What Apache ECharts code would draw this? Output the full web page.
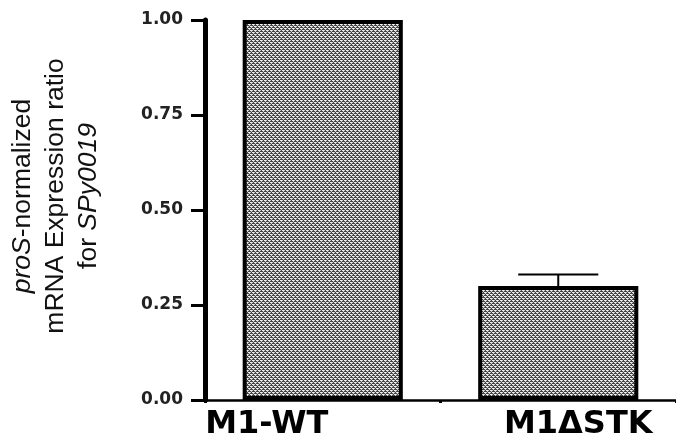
<!DOCTYPE html>
<html><head><meta charset="utf-8">
<script src="https://cdn.jsdelivr.net/npm/echarts@6/dist/echarts.min.js"></script>
<style>html,body{margin:0;padding:0;background:#fff}#c{width:676px;height:434px}</style>
</head><body><div id="c"></div>
<script>
var categories = ['M1-WT', 'M1\u0394STK'];
var values = [1.00, 0.30];
var errors = [0, 0.03];
var yTicks = [0, 0.25, 0.5, 0.75, 1.0];

function makePattern(){
  var c = document.createElement('canvas'); c.width = 4; c.height = 4;
  var g = c.getContext('2d');
  g.fillStyle = '#444'; g.fillRect(0,0,4,4);
  g.fillStyle = '#f0f0f0';
  g.fillRect(0,0,2,1); g.fillRect(2,2,2,1);
  g.fillStyle = '#c8c8c8';
  g.fillRect(2,0,1,1); g.fillRect(0,2,1,1); g.fillRect(1,1,1,1); g.fillRect(3,3,1,1);
  return c;
}
var pat = makePattern();

var chart = echarts.init(document.getElementById('c'));
chart.setOption({
  animation: false,
  grid: {left: 205, right: 0, top: 20, bottom: 34, outerBoundsMode: 'none', containLabel: false},
  xAxis: {
    type: 'category', data: categories,
    axisLine: {lineStyle: {color: '#000', width: 2.5}},
    axisTick: {show: true, length: 3, lineStyle: {color: '#000', width: 3}},
    axisLabel: {
      margin: 9,
      formatter: function(v, i){ return i === 0 ? '{a|' + v + '}' : '{b|' + v + '}'; },
      rich: {
        a: {fontFamily: 'DejaVu Sans', fontWeight: 'bold', fontSize: 32, color: '#000', padding: [0, 112, 0, 0]},
        b: {fontFamily: 'DejaVu Sans', fontWeight: 'bold', fontSize: 32, color: '#000', padding: [0, 0, 0, 40]}
      }
    }
  },
  yAxis: {
    type: 'value', min: 0, max: 1, interval: 0.25,
    name: '{i|proS}{n|-normalized}\n{n|mRNA Expression ratio}\n{n|for }{i|SPy0019}',
    nameLocation: 'middle', nameRotate: 90, nameGap: 100,
    nameTextStyle: {
      lineHeight: 33, align: 'center', padding: [0, 0, 0, 28],
      rich: {
        n: {fontFamily: 'Liberation Sans', fontSize: 26.5, color: '#111', lineHeight: 33},
        i: {fontFamily: 'Liberation Sans', fontStyle: 'italic', fontSize: 26.5, color: '#111', lineHeight: 33}
      }
    },
    splitLine: {show: false},
    axisLine: {show: true, lineStyle: {color: '#000', width: 5}},
    axisTick: {show: true, length: 14, lineStyle: {color: '#000', width: 3}},
    axisLabel: {
      margin: 22, fontFamily: 'DejaVu Sans', fontWeight: 'bold', fontSize: 17, color: '#222',
      formatter: function(v){ return v.toFixed(2); }
    }
  },
  series: [{
    type: 'bar', data: values, barWidth: '68%',
    itemStyle: {color: {image: pat, repeat: 'repeat'}, borderColor: '#000', borderWidth: 4}
  }, {
    type: 'custom',
    data: values.map(function(v, i){ return [i, v, errors[i]]; }),
    renderItem: function(params, api){
      var i = api.value(0), v = api.value(1), e = api.value(2);
      if (!e) return null;
      var p0 = api.coord([i, v]);
      var p1 = api.coord([i, v + e]);
      var half = api.size([1, 0])[0] * 0.17;
      return {type: 'group', children: [
        {type: 'line', shape: {x1: p0[0], y1: p0[1], x2: p1[0], y2: p1[1]}, style: {stroke: '#000', lineWidth: 2}},
        {type: 'line', shape: {x1: p1[0] - half, y1: p1[1], x2: p1[0] + half, y2: p1[1]}, style: {stroke: '#000', lineWidth: 2}}
      ]};
    }
  }]
});
</script></body></html>
